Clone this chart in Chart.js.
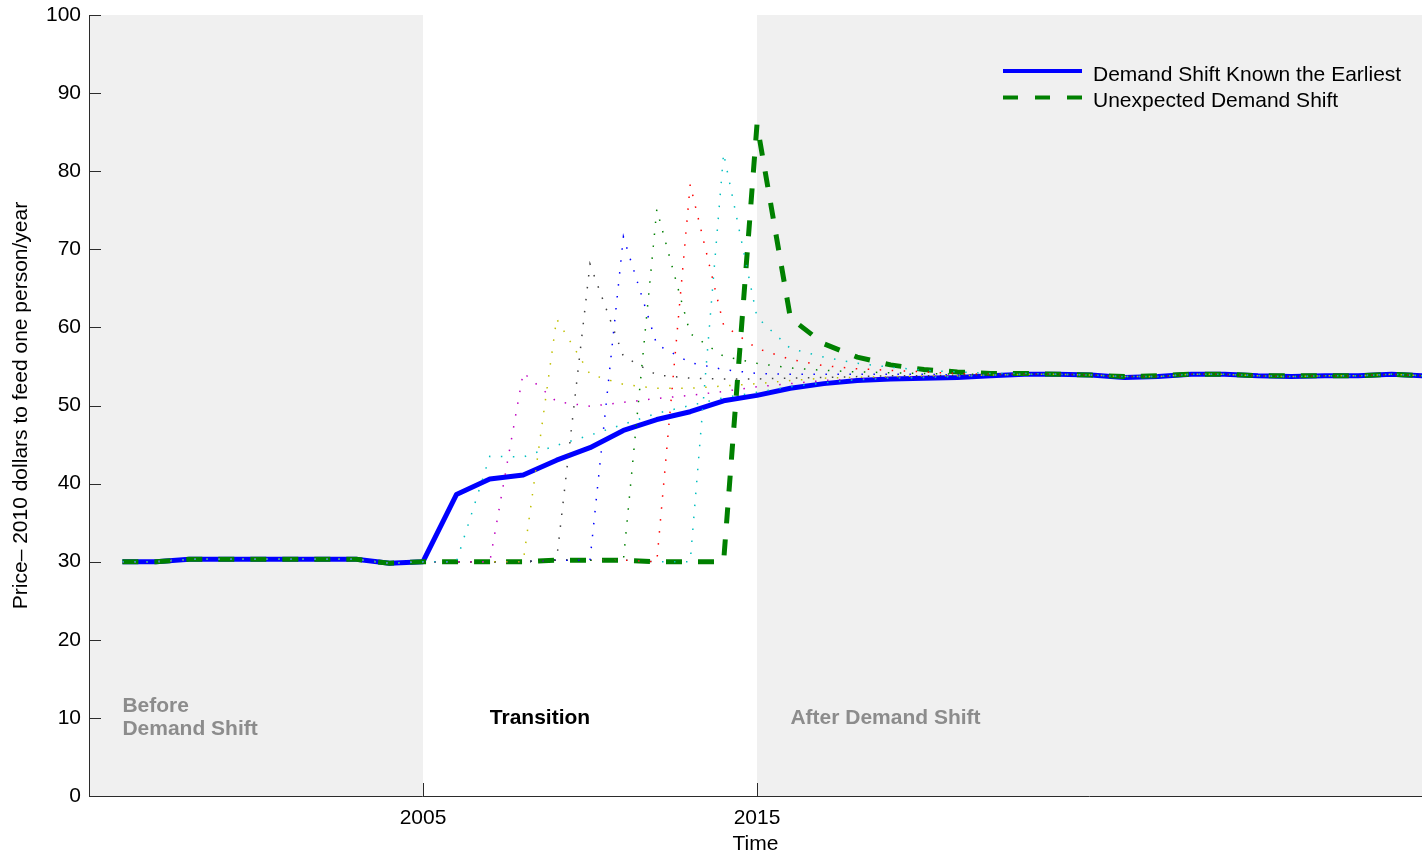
<!DOCTYPE html>
<html>
<head>
<meta charset="utf-8">
<title>Price path under a demand shift</title>
<script src="https://cdn.jsdelivr.net/npm/chart.js@4.4.1/dist/chart.umd.min.js"></script>
<style>
  html, body { margin: 0; padding: 0; background: #ffffff; }
  canvas { display: block; }
</style>
</head>
<body>
<canvas id="chart" width="1422" height="859"></canvas>
<script>
// ---- data: yearly prices (2010 dollars to feed one person per year) ----
const years = [
  1996, 1997, 1998, 1999, 2000, 2001, 2002, 2003, 2004, 2005,
  2006, 2007, 2008, 2009, 2010, 2011, 2012, 2013, 2014, 2015,
  2016, 2017, 2018, 2019, 2020, 2021, 2022, 2023, 2024, 2025,
  2026, 2027, 2028, 2029, 2030, 2031, 2032, 2033, 2034, 2035
];

// shift announced the earliest
const knownEarliest = [
  30.0, 30.0, 30.3, 30.3, 30.3, 30.3, 30.3, 30.3, 29.8, 30.0,
  38.6, 40.6, 41.1, 43.0, 44.6, 46.8, 48.2, 49.2, 50.6, 51.3,
  52.2, 52.8, 53.2, 53.4, 53.5, 53.6, 53.8, 54.0, 54.0, 53.9,
  53.6, 53.7, 54.0, 54.0, 53.8, 53.7, 53.8, 53.8, 54.0, 53.8
];

// shift arrives without warning
const unexpectedShift = [
  30.0, 30.0, 30.3, 30.3, 30.3, 30.3, 30.3, 30.3, 29.8, 30.0,
  30.0, 30.0, 30.0, 30.2, 30.2, 30.2, 30.0, 30.0, 30.0, 86.0,
  61.2, 57.9, 56.2, 55.2, 54.6, 54.3, 54.1, 54.1, 54.0, 53.9,
  53.7, 53.8, 54.0, 54.0, 53.8, 53.8, 53.8, 53.8, 54.0, 53.8
];

// intermediate announcement dates
const known2006 = [
  30.0, 30.0, 30.3, 30.3, 30.3, 30.3, 30.3, 30.3, 29.8, 30.0,
  30.0, 43.5, 43.4, 44.9, 46.2, 47.6, 49.0, 50.0, 51.0, 51.7,
  52.4, 52.9, 53.3, 53.5, 53.6, 53.7, 53.9, 54.0, 54.0, 53.9,
  53.7, 53.7, 54.0, 54.0, 53.8, 53.7, 53.8, 53.8, 54.0, 53.8
];
const known2007 = [
  30.0, 30.0, 30.3, 30.3, 30.3, 30.3, 30.3, 30.3, 29.8, 30.0,
  30.0, 30.0, 54.2, 50.5, 49.9, 50.4, 50.9, 51.3, 51.8, 52.4,
  52.8, 53.2, 53.4, 53.6, 53.7, 53.8, 53.9, 54.0, 54.0, 53.9,
  53.7, 53.7, 54.0, 54.0, 53.8, 53.7, 53.8, 53.8, 54.0, 53.8
];
const known2008 = [
  30.0, 30.0, 30.3, 30.3, 30.3, 30.3, 30.3, 30.3, 29.8, 30.0,
  30.0, 30.0, 30.0, 61.1, 54.0, 52.7, 52.2, 52.2, 52.5, 52.8,
  53.2, 53.5, 53.6, 53.7, 53.8, 53.8, 53.9, 54.0, 54.0, 53.9,
  53.7, 53.7, 54.0, 54.0, 53.8, 53.7, 53.8, 53.8, 54.0, 53.8
];
const known2009 = [
  30.0, 30.0, 30.3, 30.3, 30.3, 30.3, 30.3, 30.3, 29.8, 30.0,
  30.0, 30.0, 30.0, 30.2, 68.1, 56.3, 53.9, 53.5, 53.4, 53.4,
  53.5, 53.6, 53.7, 53.8, 53.8, 53.9, 53.9, 54.0, 54.0, 53.9,
  53.7, 53.7, 54.0, 54.0, 53.8, 53.7, 53.8, 53.8, 54.0, 53.8
];
const known2010 = [
  30.0, 30.0, 30.3, 30.3, 30.3, 30.3, 30.3, 30.3, 29.8, 30.0,
  30.0, 30.0, 30.0, 30.2, 30.2, 71.6, 57.8, 55.5, 54.6, 54.1,
  54.0, 54.0, 54.0, 54.0, 54.0, 53.9, 53.9, 54.0, 54.0, 53.9,
  53.7, 53.7, 54.0, 54.0, 53.8, 53.7, 53.8, 53.8, 54.0, 53.8
];
const known2011 = [
  30.0, 30.0, 30.3, 30.3, 30.3, 30.3, 30.3, 30.3, 29.8, 30.0,
  30.0, 30.0, 30.0, 30.2, 30.2, 30.2, 75.1, 59.2, 56.3, 55.4,
  54.8, 54.5, 54.3, 54.2, 54.1, 54.0, 54.0, 54.0, 54.0, 53.9,
  53.7, 53.7, 54.0, 54.0, 53.8, 53.7, 53.8, 53.8, 54.0, 53.8
];
const known2012 = [
  30.0, 30.0, 30.3, 30.3, 30.3, 30.3, 30.3, 30.3, 29.8, 30.0,
  30.0, 30.0, 30.0, 30.2, 30.2, 30.2, 30.0, 78.3, 60.3, 57.3,
  55.9, 55.1, 54.7, 54.5, 54.3, 54.1, 54.0, 54.0, 54.0, 53.9,
  53.7, 53.7, 54.0, 54.0, 53.8, 53.7, 53.8, 53.8, 54.0, 53.8
];
const known2013 = [
  30.0, 30.0, 30.3, 30.3, 30.3, 30.3, 30.3, 30.3, 29.8, 30.0,
  30.0, 30.0, 30.0, 30.2, 30.2, 30.2, 30.0, 30.0, 82.3, 61.3,
  57.3, 56.2, 55.4, 54.9, 54.5, 54.3, 54.1, 54.1, 54.0, 53.9,
  53.7, 53.7, 54.0, 54.0, 53.8, 53.7, 53.8, 53.8, 54.0, 53.8
];

const xTickYears = [2005, 2015];
const yTickValues = [0, 10, 20, 30, 40, 50, 60, 70, 80, 90, 100];
// period boundaries; the axis runs a hair short of 2035 at the right edge
const phaseBounds = [1995, 2005, 2015, 2034.91];

const legendLabels = ['Demand Shift Known the Earliest', 'Unexpected Demand Shift'];
const phaseLabels = ['Before', 'Demand Shift', 'Transition', 'After Demand Shift'];

// ---- styling ----
const FONT = "'Liberation Sans', Arial, Helvetica, sans-serif";
Chart.defaults.font.family = FONT;
Chart.defaults.color = '#000000';

const AXIS_COLOR = '#2b2b2b';
const SHADE = '#f0f0f0';

const toPoints = vals => years.map((yr, i) => ({ x: yr, y: vals[i] }));

const dotted = (vals, color) => ({
  data: toPoints(vals),
  borderColor: color,
  borderWidth: 1.5,
  borderDash: [1.5, 10.5],
  pointRadius: 0,
  fill: false,
  tension: 0
});

// MATLAB-style colour cycle for the intermediate scenarios
const scenarioSeries = [
  [known2006, '#00bfbf'],
  [known2007, '#bf00bf'],
  [known2008, '#bfbf00'],
  [known2009, '#404040'],
  [known2010, '#0000ff'],
  [known2011, '#008000'],
  [known2012, '#ff0000'],
  [known2013, '#00bfbf']
];

const datasets = scenarioSeries.map(([v, c]) => dotted(v, c));
datasets.push({
  label: legendLabels[1],
  data: toPoints(unexpectedShift),
  borderColor: '#008000',
  borderWidth: 5,
  borderDash: [16, 16],
  borderJoinStyle: 'round',
  pointRadius: 0,
  fill: false,
  tension: 0
});
datasets.push({
  label: legendLabels[0],
  data: toPoints(knownEarliest),
  borderColor: '#0000ff',
  borderWidth: 5,
  borderJoinStyle: 'round',
  pointRadius: 0,
  fill: false,
  tension: 0
});

// shaded background for the "before" and "after" periods
const phaseShading = {
  id: 'phaseShading',
  beforeDraw(chart) {
    const { ctx, chartArea: a, scales: { x } } = chart;
    const p = phaseBounds.map(v => x.getPixelForValue(v));
    ctx.save();
    ctx.fillStyle = SHADE;
    ctx.fillRect(p[0], a.top, p[1] - p[0], a.bottom - a.top);
    ctx.fillRect(p[2], a.top, p[3] - p[2], a.bottom - a.top);
    ctx.restore();
  }
};

// inward tick marks, period labels and the legend
const overlay = {
  id: 'overlay',
  afterDraw(chart) {
    const { ctx, chartArea: a, scales: { x, y } } = chart;
    ctx.save();

    ctx.strokeStyle = AXIS_COLOR;
    ctx.lineWidth = 1;
    ctx.beginPath();
    yTickValues.forEach(v => {
      const py = Math.round(y.getPixelForValue(v)) + 0.5;
      ctx.moveTo(a.left, py);
      ctx.lineTo(a.left + 12, py);
    });
    xTickYears.forEach(v => {
      const px = Math.round(x.getPixelForValue(v)) + 0.5;
      ctx.moveTo(px, a.bottom);
      ctx.lineTo(px, a.bottom - 13);
    });
    ctx.stroke();

    ctx.font = `bold 21px ${FONT}`;
    ctx.textAlign = 'left';
    ctx.textBaseline = 'middle';
    ctx.fillStyle = '#8c8c8c';
    ctx.fillText(phaseLabels[0], x.getPixelForValue(1996), y.getPixelForValue(11.5));
    ctx.fillText(phaseLabels[1], x.getPixelForValue(1996), y.getPixelForValue(8.55));
    ctx.fillText(phaseLabels[3], x.getPixelForValue(2016), y.getPixelForValue(10.0));
    ctx.fillStyle = '#000000';
    ctx.fillText(phaseLabels[2], x.getPixelForValue(2007), y.getPixelForValue(10.0));

    // legend
    const lx0 = a.right - 419, lx1 = a.right - 340, tx = a.right - 329;
    ctx.lineWidth = 4;
    ctx.strokeStyle = '#0000ff';
    ctx.beginPath();
    ctx.moveTo(lx0, 71); ctx.lineTo(lx1, 71);
    ctx.stroke();
    ctx.strokeStyle = '#008000';
    ctx.setLineDash([15, 17]);
    ctx.beginPath();
    ctx.moveTo(lx0, 97.5); ctx.lineTo(lx1, 97.5);
    ctx.stroke();
    ctx.setLineDash([]);

    ctx.font = `21px ${FONT}`;
    ctx.fillStyle = '#000000';
    ctx.textBaseline = 'alphabetic';
    ctx.fillText(legendLabels[0], tx, 81);
    ctx.fillText(legendLabels[1], tx, 107.3);

    ctx.restore();
  }
};

new Chart(document.getElementById('chart'), {
  type: 'line',
  data: { datasets },
  plugins: [phaseShading, overlay],
  options: {
    responsive: false,
    animation: false,
    devicePixelRatio: 1,
    layout: { padding: { top: 15, right: 0, bottom: 0, left: 0 } },
    plugins: {
      legend: { display: false },
      tooltip: { enabled: false }
    },
    scales: {
      x: {
        type: 'linear',
        min: phaseBounds[0],
        max: phaseBounds[3],
        afterBuildTicks: s => { s.ticks = xTickYears.map(v => ({ value: v })); },
        afterFit: s => { s.height = 63; s.paddingLeft = 0; s.paddingRight = 0; },
        grid: { display: false, drawTicks: false },
        border: { display: true, color: AXIS_COLOR, width: 1 },
        ticks: {
          color: '#000000',
          font: { size: 21 },
          padding: 10,
          maxRotation: 0,
          autoSkip: false,
          callback: v => String(v)
        },
        title: {
          display: true,
          text: 'Time',
          color: '#000000',
          font: { size: 21 },
          padding: { top: 0, bottom: 2 }
        }
      },
      y: {
        min: 0,
        max: 100,
        afterBuildTicks: s => { s.ticks = yTickValues.map(v => ({ value: v })); },
        afterFit: s => { s.width = 89; s.paddingTop = 0; s.paddingBottom = 0; },
        grid: { display: false, drawTicks: false },
        border: { display: true, color: AXIS_COLOR, width: 1 },
        ticks: {
          color: '#000000',
          font: { size: 21 },
          padding: 8,
          callback: v => String(v)
        },
        title: {
          display: true,
          text: 'Price\u2013 2010 dollars to feed one person/year',
          color: '#000000',
          font: { size: 21 },
          padding: { top: 9, bottom: 0 }
        }
      }
    }
  }
});
</script>
</body>
</html>
